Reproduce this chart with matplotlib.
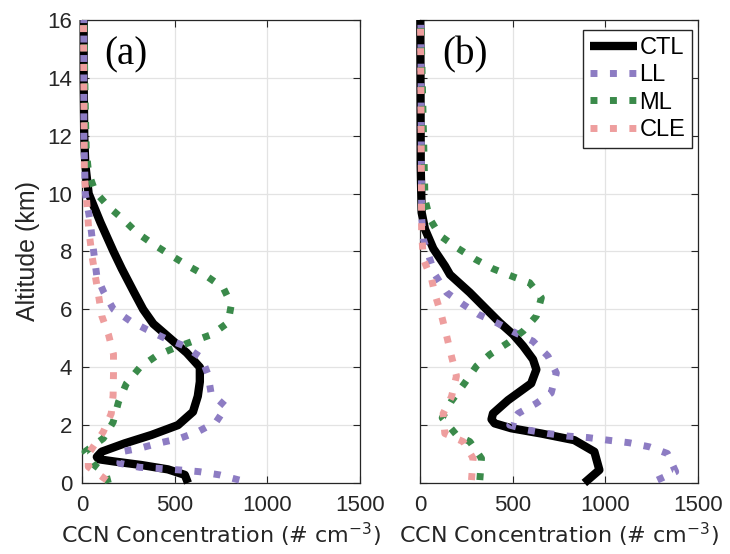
import matplotlib
matplotlib.use("Agg")
import matplotlib.pyplot as plt

# ---- panel (a) profiles: (altitude km, CCN # cm^-3) ----
a_ctl_alt = [0, 0.28, 0.47, 0.62, 0.74, 0.82, 0.9, 1.08, 1.37, 1.66, 2.0, 2.46, 3.0, 3.5, 4.0, 4.5, 5.0, 5.5, 6.0, 6.6, 7.4, 8.0, 9.0, 10.0, 11.0, 12.0, 14.0, 16.0]
a_ctl_val = [572, 555, 464, 321, 177, 90, 80, 106, 231, 375, 518, 599, 625, 636, 636, 565, 475, 385, 330, 280, 215, 170, 100, 36, 18, 12, 9, 9]

a_ll_alt = [0.1, 0.28, 0.39, 0.45, 0.5, 0.54, 0.68, 1.08, 1.2, 1.37, 1.54, 1.77, 2.11, 2.63, 3.09, 3.75, 4.33, 4.75, 5.0, 5.3, 5.6, 6.0, 6.6, 7.15, 8.0, 9.0, 10.0, 12.0, 16.0]
a_ll_val = [849, 742, 634, 527, 419, 312, 204, 213, 312, 410, 527, 625, 724, 778, 697, 680, 645, 547, 448, 350, 260, 170, 117, 80, 63, 45, 18, 10, 10]

a_ml_alt = [0, 0.3, 0.6, 1.08, 1.54, 2.1, 2.8, 3.44, 4.0, 4.4, 4.67, 4.9, 5.13, 5.54, 6.17, 6.75, 7.15, 7.5, 7.85, 8.25, 8.65, 9.1, 9.55, 10.06, 10.7, 11.5, 12.9, 16.0]
a_ml_val = [142, 130, 70, 16, 115, 168, 197, 240, 313, 403, 500, 600, 700, 788, 806, 762, 672, 573, 484, 385, 296, 224, 143, 72, 36, 23, 18, 10]

a_cle_alt = [0.1, 0.56, 1.0, 1.77, 2.4, 3.03, 3.75, 4.45, 5.13, 5.77, 6.46, 7.15, 7.85, 8.8, 9.95, 10.6, 16.0]
a_cle_val = [133, 34, 34, 115, 158, 168, 170, 170, 143, 107, 90, 72, 54, 36, 23, 13, 8]

# ---- panel (b) profiles ----
b_ctl_alt = [0, 0.45, 1.08, 1.48, 1.71, 1.89, 2.06, 2.2, 2.4, 2.86, 3.44, 3.92, 4.27, 4.73, 5.13, 5.54, 6.0, 6.58, 7.2, 7.5, 8.1, 8.77, 9.35, 10.95, 16.0]
b_ctl_val = [887, 968, 941, 833, 654, 493, 403, 386, 394, 475, 600, 628, 610, 557, 503, 431, 359, 269, 162, 135, 72, 27, 9, 4, 2]

b_ll_alt = [0.1, 0.39, 1.02, 1.25, 1.39, 1.48, 1.57, 1.62, 1.71, 1.83, 2.0, 2.4, 2.75, 3.11, 3.8, 4.38, 4.9, 5.2, 5.54, 5.83, 6.17, 6.58, 7.2, 8.43, 9.2, 16.0]
b_ll_val = [1281, 1380, 1335, 1237, 1129, 1013, 905, 797, 690, 582, 484, 529, 627, 708, 736, 691, 610, 512, 413, 314, 233, 144, 81, 18, 9, 5]

b_ml_alt = [0.1, 0.85, 1.43, 1.66, 2.25, 2.83, 3.46, 4.04, 4.44, 4.85, 5.25, 5.77, 6.4, 6.92, 7.11, 7.4, 7.74, 8.14, 8.55, 9.12, 9.8, 16.0]
b_ml_val = [323, 332, 269, 197, 120, 170, 242, 305, 377, 476, 557, 628, 655, 592, 510, 395, 296, 197, 108, 54, 27, 5]

b_cle_alt = [0.1, 0.85, 1.43, 1.71, 2.4, 2.98, 3.7, 4.38, 5.08, 5.77, 6.52, 7.04, 7.74, 8.66, 16.0]
b_cle_val = [278, 287, 233, 134, 125, 170, 197, 170, 144, 117, 81, 63, 18, 9, 3]

labels = ["CTL", "LL", "ML", "CLE"]
colors = ["black", "#8D7CC3", "#3A8A4A", "#EE9E9E"]
x_ticks = [0, 500, 1000, 1500]
y_ticks = [0, 2, 4, 6, 8, 10, 12, 14, 16]

plt.rcParams["font.family"] = ["Liberation Sans", "DejaVu Sans"]
fig = plt.figure(figsize=(7.3, 5.54), dpi=100)
ax_a = fig.add_axes([0.1123, 0.1282, 0.3808, 0.8357])
ax_b = fig.add_axes([0.5753, 0.1282, 0.3808, 0.8357])

dot = (0, (1, 1.8))
panels = [
    (ax_a, "(a)", [(a_ctl_val, a_ctl_alt), (a_ll_val, a_ll_alt), (a_ml_val, a_ml_alt), (a_cle_val, a_cle_alt)]),
    (ax_b, "(b)", [(b_ctl_val, b_ctl_alt), (b_ll_val, b_ll_alt), (b_ml_val, b_ml_alt), (b_cle_val, b_cle_alt)]),
]

for ax, tag, series in panels:
    for i, (x, y) in enumerate(series):
        if i == 0:
            ax.plot(x, y, color=colors[i], lw=6, label=labels[i], clip_on=False, zorder=3,
                    solid_joinstyle="round", solid_capstyle="butt")
        else:
            ax.plot(x, y, color=colors[i], lw=5, ls=dot, label=labels[i], clip_on=False, zorder=3)
    ax.set_xlim(0, 1500)
    ax.set_ylim(0, 16)
    ax.set_xticks(x_ticks)
    ax.set_yticks(y_ticks)
    ax.grid(True, color="#e3e3e3", lw=0.9)
    ax.set_axisbelow(True)
    ax.tick_params(direction="in", length=5, width=0.8, top=True, right=True,
                   labelsize=16, colors="#262626")
    ax.tick_params(axis="x", pad=9)
    ax.tick_params(axis="y", pad=7)
    for s in ax.spines.values():
        s.set_color("#262626")
        s.set_linewidth(0.9)
    ax.set_xlabel("CCN Concentration (# cm$^{-3}$)", fontsize=16, color="#262626", labelpad=3,
                  family=["DejaVu Sans"])
    ax.text(0.08, 0.925, tag, transform=ax.transAxes, fontsize=28,
            family=["Liberation Serif", "DejaVu Serif"], ha="left", va="center")

ax_a.set_ylabel("Altitude (km)", fontsize=18, color="#262626", labelpad=5)
ax_b.tick_params(labelleft=False)

leg = ax_b.legend(loc="upper right", bbox_to_anchor=(0.98, 0.978), borderaxespad=0,
                  fontsize=17, handlelength=2.0, handletextpad=0.1, labelspacing=0.22,
                  borderpad=0.3, fancybox=False, framealpha=1)
leg.get_frame().set_edgecolor("#262626")
leg.get_frame().set_linewidth(1.0)

fig.savefig("out.png", dpi=100)
